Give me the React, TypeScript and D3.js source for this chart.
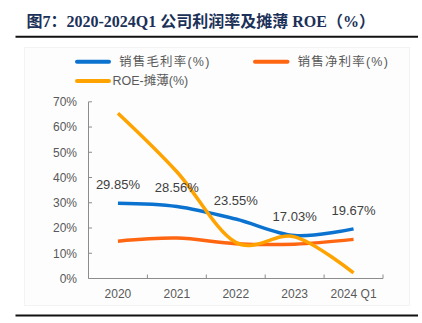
import React from "react";
import * as d3 from "d3";

const categories = ["2020", "2021", "2022", "2023", "2024 Q1"];
const grossMargin = [29.85, 28.56, 23.55, 17.03, 19.67];
const netMargin = [14.8, 16.0, 13.8, 13.6, 15.5];
const roeDiluted = [65.5, 42.3, 14.3, 16.5, 2.2];
const grossLabels = ["29.85%", "28.56%", "23.55%", "17.03%", "19.67%"];
const yTicks = [0, 10, 20, 30, 40, 50, 60, 70];
const seriesNames = ["销售毛利率(%)", "销售净利率(%)", "ROE-摊薄(%)"];
const titleText = "图7：2020-2024Q1 公司利润率及摊薄 ROE（%）";

const BLUE = "#0B73CF";
const RED = "#FF6612";
const ORANGE = "#FFA300";

export default function App() {
  const W = 422;
  const H = 323;
  const x = d3.scaleBand<string>().domain(categories).range([88.5, 383]).padding(0);
  const y = d3.scaleLinear().domain([0, 70]).range([278.5, 101.8]);
  const cx = (c: string) => (x(c) as number) + x.bandwidth() / 2;
  const line = d3
    .line<number>()
    .x((_, i) => cx(categories[i]))
    .y((d) => y(d))
    .curve(d3.curveCardinal.tension(0));

  const sans = "'Liberation Sans', Arial, 'Noto Sans CJK SC', sans-serif";
  const boundaries = categories.map((c) => (x(c) as number) + x.bandwidth());

  return (
    <svg
      width={W}
      height={H}
      style={{ position: "absolute", left: 0, top: 0, background: "#fff" }}
      fontFamily={sans}
    >
      <rect x={0} y={0} width={W} height={H} fill="#ffffff" />
      <text
        x={26.5}
        y={27}
        fontFamily="'Liberation Serif', 'Times New Roman', 'Noto Sans CJK SC', serif"
        fontWeight="bold"
        fontSize={16}
        fill="#1B3158"
      >
        {titleText}
      </text>
      <line x1={15.5} x2={418} y1={36.8} y2={36.8} stroke="#111" strokeWidth={2} />

      <rect x={24.5} y={47.5} width={385} height={258} fill="#fdfdfd" stroke="#f3f3f3" strokeWidth={1} />

      {/* legend */}
      <g fontSize={12.5} fill="#595959">
        <line x1={77} x2={109} y1={61.7} y2={61.7} stroke={BLUE} strokeWidth={4} strokeLinecap="round" />
        <text x={119} y={66} letterSpacing={1.2}>{seriesNames[0]}</text>
        <line x1={255} x2={287.5} y1={61.7} y2={61.7} stroke={RED} strokeWidth={4} strokeLinecap="round" />
        <text x={297.5} y={66} letterSpacing={1.2}>{seriesNames[1]}</text>
        <line x1={77} x2={109} y1={81} y2={81} stroke={ORANGE} strokeWidth={4} strokeLinecap="round" />
        <text x={112.5} y={85.3}>{seriesNames[2]}</text>
      </g>

      {/* axes */}
      <g stroke="#8c8c8c" strokeWidth={1} fill="none">
        <line x1={88.5} x2={88.5} y1={y(70)} y2={y(0)} />
        <line x1={88.5} x2={383} y1={y(0)} y2={y(0)} />
        {yTicks.map((t) => (
          <line key={t} x1={88.5} x2={92} y1={y(t)} y2={y(t)} />
        ))}
        {boundaries.map((b, i) => (
          <line key={i} x1={b} x2={b} y1={y(0)} y2={y(0) - 4} />
        ))}
      </g>
      <g fontSize={12} fill="#595959">
        {yTicks.map((t) => (
          <text key={t} x={77} y={y(t) + 4.3} textAnchor="end">
            {t}%
          </text>
        ))}
        {categories.map((c) => (
          <text key={c} x={cx(c)} y={297.5} textAnchor="middle">
            {c}
          </text>
        ))}
      </g>

      {/* series */}
      <path d={line(grossMargin) || ""} fill="none" stroke={BLUE} strokeWidth={3.5} />
      <path d={line(netMargin) || ""} fill="none" stroke={RED} strokeWidth={3.5} />
      <path d={line(roeDiluted) || ""} fill="none" stroke={ORANGE} strokeWidth={3.5} />

      <g fontSize={13} fill="#404040">
        {grossMargin.map((v, i) => (
          <text key={i} x={cx(categories[i])} y={y(v) - 14.3} textAnchor="middle">
            {grossLabels[i]}
          </text>
        ))}
      </g>

      <line x1={15.5} x2={418} y1={315.5} y2={315.5} stroke="#111" strokeWidth={2} />
    </svg>
  );
}
